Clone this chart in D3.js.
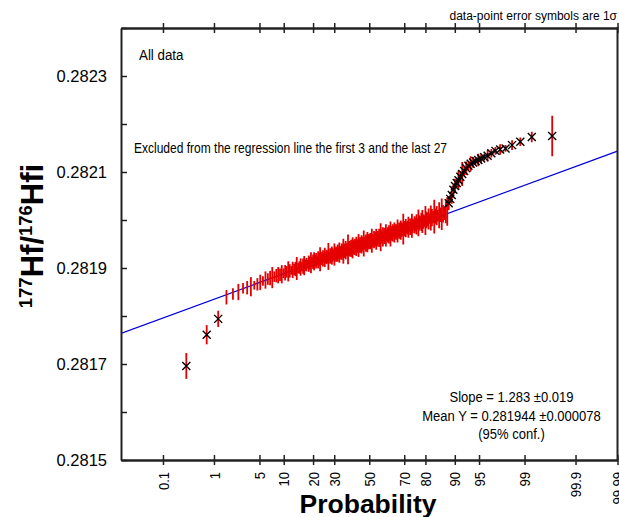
<!DOCTYPE html>
<html>
<head>
<meta charset="utf-8">
<script src="https://cdn.jsdelivr.net/npm/d3@7"></script>
<style>
  body { margin: 0; background: #fff; }
  svg { display: block; }
  text { font-family: "Liberation Sans", Arial, Helvetica, sans-serif; fill: #000; }
</style>
</head>
<body>
<svg id="chart" width="619" height="517"></svg>
<script>
// 177Hf/176Hf ratios, sorted ascending (one per analysis)
const ratios = [
  0.281696, 0.281761, 0.281794,
  0.281839, 0.281846, 0.281850, 0.281858, 0.281859, 0.281861, 0.281864, 0.281866, 0.281870, 0.281873,
  0.281875, 0.281877, 0.281879, 0.281880, 0.281882, 0.281884, 0.281885, 0.281886, 0.281887, 0.281889,
  0.281890, 0.281892, 0.281893, 0.281894, 0.281895, 0.281896, 0.281897, 0.281898, 0.281899, 0.281900,
  0.281901, 0.281902, 0.281903, 0.281904, 0.281905, 0.281906, 0.281907, 0.281908, 0.281909, 0.281910,
  0.281911, 0.281912, 0.281913, 0.281914, 0.281915, 0.281915, 0.281916, 0.281917, 0.281918, 0.281918,
  0.281919, 0.281920, 0.281920, 0.281921, 0.281922, 0.281922, 0.281923, 0.281923, 0.281924, 0.281924,
  0.281925, 0.281926, 0.281926, 0.281927, 0.281927, 0.281928, 0.281929, 0.281929, 0.281930, 0.281931,
  0.281931, 0.281932, 0.281932, 0.281933, 0.281934, 0.281934, 0.281935, 0.281936, 0.281936, 0.281937,
  0.281938, 0.281938, 0.281939, 0.281939, 0.281940, 0.281940, 0.281941, 0.281942, 0.281942, 0.281943,
  0.281943, 0.281944, 0.281945, 0.281945, 0.281946, 0.281946, 0.281947, 0.281947, 0.281948, 0.281949,
  0.281949, 0.281950, 0.281950, 0.281951, 0.281951, 0.281952, 0.281952, 0.281953, 0.281954, 0.281954,
  0.281955, 0.281955, 0.281956, 0.281956, 0.281957, 0.281957, 0.281958, 0.281959, 0.281959, 0.281960,
  0.281960, 0.281961, 0.281961, 0.281962, 0.281963, 0.281963, 0.281964, 0.281964, 0.281965, 0.281965,
  0.281966, 0.281967, 0.281967, 0.281968, 0.281968, 0.281969, 0.281969, 0.281970, 0.281971, 0.281971,
  0.281972, 0.281972, 0.281973, 0.281974, 0.281974, 0.281975, 0.281975, 0.281976, 0.281977, 0.281977,
  0.281978, 0.281979, 0.281979, 0.281980, 0.281980, 0.281981, 0.281982, 0.281982, 0.281983, 0.281984,
  0.281984, 0.281985, 0.281986, 0.281986, 0.281987, 0.281988, 0.281988, 0.281989, 0.281990, 0.281990,
  0.281991, 0.281992, 0.281994, 0.281994, 0.281995, 0.281996, 0.281997, 0.281997, 0.281998, 0.281999,
  0.282000, 0.282001, 0.282002, 0.282003, 0.282004, 0.282005, 0.282006, 0.282007, 0.282008, 0.282009,
  0.282009, 0.282010, 0.282011, 0.282012, 0.282013, 0.282014, 0.282016, 0.282018,
  0.282035, 0.282044, 0.282052, 0.282063, 0.282071, 0.282077, 0.282083, 0.282090, 0.282096, 0.282102,
  0.282108, 0.282113, 0.282117, 0.282120, 0.282123, 0.282125, 0.282128, 0.282131, 0.282134, 0.282139,
  0.282144, 0.282147, 0.282149, 0.282156, 0.282163, 0.282173, 0.282175
];

// 1-sigma uncertainties, in units of 1e-6
const sigmaE6 = [
  27, 20, 17,
  15, 12, 17, 11, 14, 20, 9, 13, 16, 10, 18, 12, 15, 22, 11, 14, 17,
  13, 19, 10, 16, 12, 21, 14, 9, 17, 12,
  15, 24, 11, 13, 18, 10, 16, 20, 12, 14,
  9, 17, 13, 22, 11, 15, 19, 12, 16, 10,
  18, 13, 25, 11, 14, 17, 9, 20, 12, 15,
  13, 28, 10, 16, 12, 19, 14, 11, 23, 13,
  16, 10, 18, 12, 21, 14, 9, 17, 13, 26,
  11, 15, 19, 12, 14, 31, 10, 16, 13, 18,
  12, 22, 15, 9, 17, 13, 20, 11, 14, 24,
  13, 16, 10, 19, 12, 15, 27, 11, 14, 18,
  12, 21, 9, 16, 13, 17, 11, 25, 14, 12,
  18, 10, 15, 22, 13, 16, 11, 19, 14, 29,
  12, 15, 20, 10, 17, 13, 23, 11, 16, 14,
  19, 12, 26, 15, 10, 18, 13, 21, 11, 16,
  14, 24, 12, 17, 10, 20, 15, 13, 32, 11,
  16, 19, 12, 14, 22, 10, 17, 13, 25, 15,
  11, 18, 14, 21, 12, 28, 16, 13, 19, 24,
  15, 12, 30, 17, 14, 22, 11, 26, 18, 13,
  35, 16, 20, 12, 27, 15, 33, 18, 14, 23,
  30,
  14, 9, 18, 11, 15, 8, 20, 12, 25, 10, 14, 9, 16, 11, 8, 13, 10, 7, 12, 9, 8, 11, 7, 10, 9, 11, 42
];

// points left out of the regression at each end
const excludedFirst = 3;
const excludedLast = 27;

// regression summary
const fitSlopeLabel = "1.283", fitSlopeErr = "0.019";
const fitMeanY = 0.281944, fitMeanYErr = "0.000078";
const fitRatioPerSigma = 0.00005104;   // change in ratio per standard-normal unit

// axis ticks
const probTicks  = [0.1, 1, 5, 10, 20, 30, 50, 70, 80, 90, 95, 99, 99.9, 99.99];
const probLabels = ["0.1", "1", "5", "10", "20", "30", "50", "70", "80", "90", "95", "99", "99.9", "99.99"];
const yTicks  = [0.2815, 0.2816, 0.2817, 0.2818, 0.2819, 0.2820, 0.2821, 0.2822, 0.2823, 0.2824];
const yLabels = ["0.2815", "", "0.2817", "", "0.2819", "", "0.2821", "", "0.2823", ""];

// inverse standard normal CDF (Acklam's rational approximation)
function probit(p) {
  const a = [-3.969683028665376e+01, 2.209460984245205e+02, -2.759285104469687e+02, 1.383577518672690e+02, -3.066479806614716e+01, 2.506628277459239e+00];
  const b = [-5.447609879822406e+01, 1.615858368580409e+02, -1.556989798598866e+02, 6.680131188771972e+01, -1.328068155288572e+01];
  const c = [-7.784894002430293e-03, -3.223964580411365e-01, -2.400758277161838e+00, -2.549732539343734e+00, 4.374664141464968e+00, 2.938163982698783e+00];
  const d = [7.784695709041462e-03, 3.224671290700398e-01, 2.445134137142996e+00, 3.754408661907416e+00];
  const pl = 0.02425;
  if (p < pl) {
    const q = Math.sqrt(-2 * Math.log(p));
    return (((((c[0]*q+c[1])*q+c[2])*q+c[3])*q+c[4])*q+c[5]) / ((((d[0]*q+d[1])*q+d[2])*q+d[3])*q+1);
  }
  if (p > 1 - pl) {
    const q = Math.sqrt(-2 * Math.log(1 - p));
    return -(((((c[0]*q+c[1])*q+c[2])*q+c[3])*q+c[4])*q+c[5]) / ((((d[0]*q+d[1])*q+d[2])*q+d[3])*q+1);
  }
  const q = p - 0.5, r = q * q;
  return (((((a[0]*r+a[1])*r+a[2])*r+a[3])*r+a[4])*r+a[5])*q / (((((b[0]*r+b[1])*r+b[2])*r+b[3])*r+b[4])*r+1);
}

const W = 619, H = 517;
const plotLeft = 121, plotRight = 617.5, plotTop = 28, plotBottom = 460;

const svg = d3.select("#chart");
svg.append("rect").attr("width", W).attr("height", H).attr("fill", "#fff");

// probability axis: linear in normal score
const x = d3.scaleLinear().domain([probit(0.0001), probit(0.9999)]).range([plotLeft, plotRight]);
const y = d3.scaleLinear().domain([0.2815, 0.2824]).range([plotBottom, plotTop]);

// median-rank plotting positions
const n = ratios.length;
const points = ratios.map((v, i) => ({
  z: probit((i + 1 - 0.3) / (n + 0.4)),
  v: v,
  s: sigmaE6[i] * 1e-6,
  excluded: i < excludedFirst || i >= n - excludedLast
}));

// squeeze text horizontally (narrow face)
function narrow(sel, k) {
  sel.each(function () {
    const w = this.getComputedTextLength();
    d3.select(this).attr("textLength", w * k).attr("lengthAdjust", "spacingAndGlyphs");
  });
}

const axisColor = "#222";

// plot contents clipped to frame
svg.append("clipPath").attr("id", "frame")
  .append("rect").attr("x", plotLeft).attr("y", plotTop)
  .attr("width", plotRight - plotLeft).attr("height", plotBottom - plotTop);
const plot = svg.append("g").attr("clip-path", "url(#frame)");

// regression line through the mean of the included points
const incl = points.filter(p => !p.excluded);
const meanZ = d3.mean(incl, p => p.z);
const lineAt = z => fitMeanY + fitRatioPerSigma * (z - meanZ);
const [z0, z1] = x.domain();
plot.append("line")
  .attr("x1", x(z0)).attr("y1", y(lineAt(z0)))
  .attr("x2", x(z1)).attr("y2", y(lineAt(z1)))
  .attr("stroke", "#0000dd").attr("stroke-width", 1.3);

// 1-sigma error bars
plot.selectAll("line.err").data(points).join("line")
  .attr("class", "err")
  .attr("x1", d => x(d.z)).attr("x2", d => x(d.z))
  .attr("y1", d => y(d.v - d.s)).attr("y2", d => y(d.v + d.s))
  .attr("stroke", "#e40000").attr("stroke-width", 1.8);

// cross symbols for excluded points
plot.selectAll("path.cross").data(points.filter(p => p.excluded)).join("path")
  .attr("class", "cross")
  .attr("transform", d => `translate(${x(d.z)},${y(d.v)})`)
  .attr("d", "M-4,-4L4,4M-4,4L4,-4")
  .attr("stroke", "#000").attr("stroke-width", 1.4).attr("fill", "none");

// bottom axis with ticks crossing the line
const tickZ = probTicks.map(p => probit(p / 100));
const bottomOut = d3.axisBottom(x).tickValues(tickZ).tickFormat("").tickSizeInner(5).tickSizeOuter(0);
const bottomIn = d3.axisBottom(x).tickValues(tickZ).tickFormat("").tickSizeInner(-5).tickSizeOuter(0);
const gB1 = svg.append("g").attr("transform", `translate(0,${plotBottom})`).call(bottomOut);
const gB2 = svg.append("g").attr("transform", `translate(0,${plotBottom})`).call(bottomIn);
// top axis
const topOut = d3.axisTop(x).tickValues(tickZ).tickFormat("").tickSizeInner(5).tickSizeOuter(0);
const topIn = d3.axisTop(x).tickValues(tickZ).tickFormat("").tickSizeInner(-5).tickSizeOuter(0);
const gT1 = svg.append("g").attr("transform", `translate(0,${plotTop})`).call(topOut);
const gT2 = svg.append("g").attr("transform", `translate(0,${plotTop})`).call(topIn);

// left axis, inward ticks
const yAxis = d3.axisLeft(y).tickValues(yTicks).tickFormat((d, i) => yLabels[i])
  .tickSizeInner(-6).tickSizeOuter(0).tickPadding(14);
const gY = svg.append("g").attr("transform", `translate(${plotLeft},0)`).call(yAxis);
gY.selectAll("text").attr("font-size", "16.5px").attr("font-family", "Liberation Sans, Arial, sans-serif").attr("fill", "#000");

[gB1, gB2, gT1, gT2, gY].forEach(g => {
  g.select(".domain").attr("stroke", axisColor).attr("stroke-width", 2);
  g.selectAll(".tick line").attr("stroke", axisColor).attr("stroke-width", 1.5);
});

// right border
svg.append("line").attr("x1", plotRight).attr("x2", plotRight).attr("y1", plotTop - 1).attr("y2", plotBottom + 1)
  .attr("stroke", axisColor).attr("stroke-width", 2);

// rotated probability labels
const xl = svg.append("g").selectAll("text").data(probTicks).join("text")
  .attr("transform", (d, i) => `translate(${x(tickZ[i]) + 5.6},472) rotate(-90)`)
  .attr("text-anchor", "end")
  .attr("font-size", "15.5px")
  .text((d, i) => probLabels[i]);
narrow(xl, 0.84);

// axis titles
svg.append("text").attr("x", 368).attr("y", 513).attr("text-anchor", "middle")
  .attr("font-size", "26.5px").attr("font-weight", "bold").text("Probability");

const yt = svg.append("text").attr("transform", "translate(43,236) rotate(-90)")
  .attr("text-anchor", "middle").attr("font-weight", "bold").attr("font-size", "31px");
yt.append("tspan").attr("font-size", "18.5px").attr("dy", "-11").text("177");
yt.append("tspan").attr("dy", "11").text("Hf/");
yt.append("tspan").attr("font-size", "18.5px").attr("dy", "-11").text("176");
yt.append("tspan").attr("dy", "11").text("Hfi");

// annotations
svg.append("text").attr("x", 617).attr("y", 19.5).attr("text-anchor", "end")
  .attr("font-size", "12px").text("data-point error symbols are 1\u03c3");

const a1 = svg.append("text").attr("x", 139).attr("y", 60).attr("font-size", "15.5px").text("All data");
narrow(a1, 0.86);

const a2 = svg.append("text").attr("x", 134).attr("y", 153).attr("font-size", "14.5px")
  .text(`Excluded from the regression line the first ${excludedFirst} and the last ${excludedLast}`);
a2.attr("textLength", 313).attr("lengthAdjust", "spacingAndGlyphs");

const stats = [
  `Slope = ${fitSlopeLabel} \u00b1${fitSlopeErr}`,
  `Mean Y = ${fitMeanY.toFixed(6)} \u00b1${fitMeanYErr}`,
  "(95% conf.)"
];
const st = svg.append("g").selectAll("text").data(stats).join("text")
  .attr("x", 511.5).attr("y", (d, i) => [401.5, 420.5, 438.5][i])
  .attr("text-anchor", "middle").attr("font-size", "15.5px").text(d => d);
narrow(st, 0.84);
</script>
</body>
</html>
